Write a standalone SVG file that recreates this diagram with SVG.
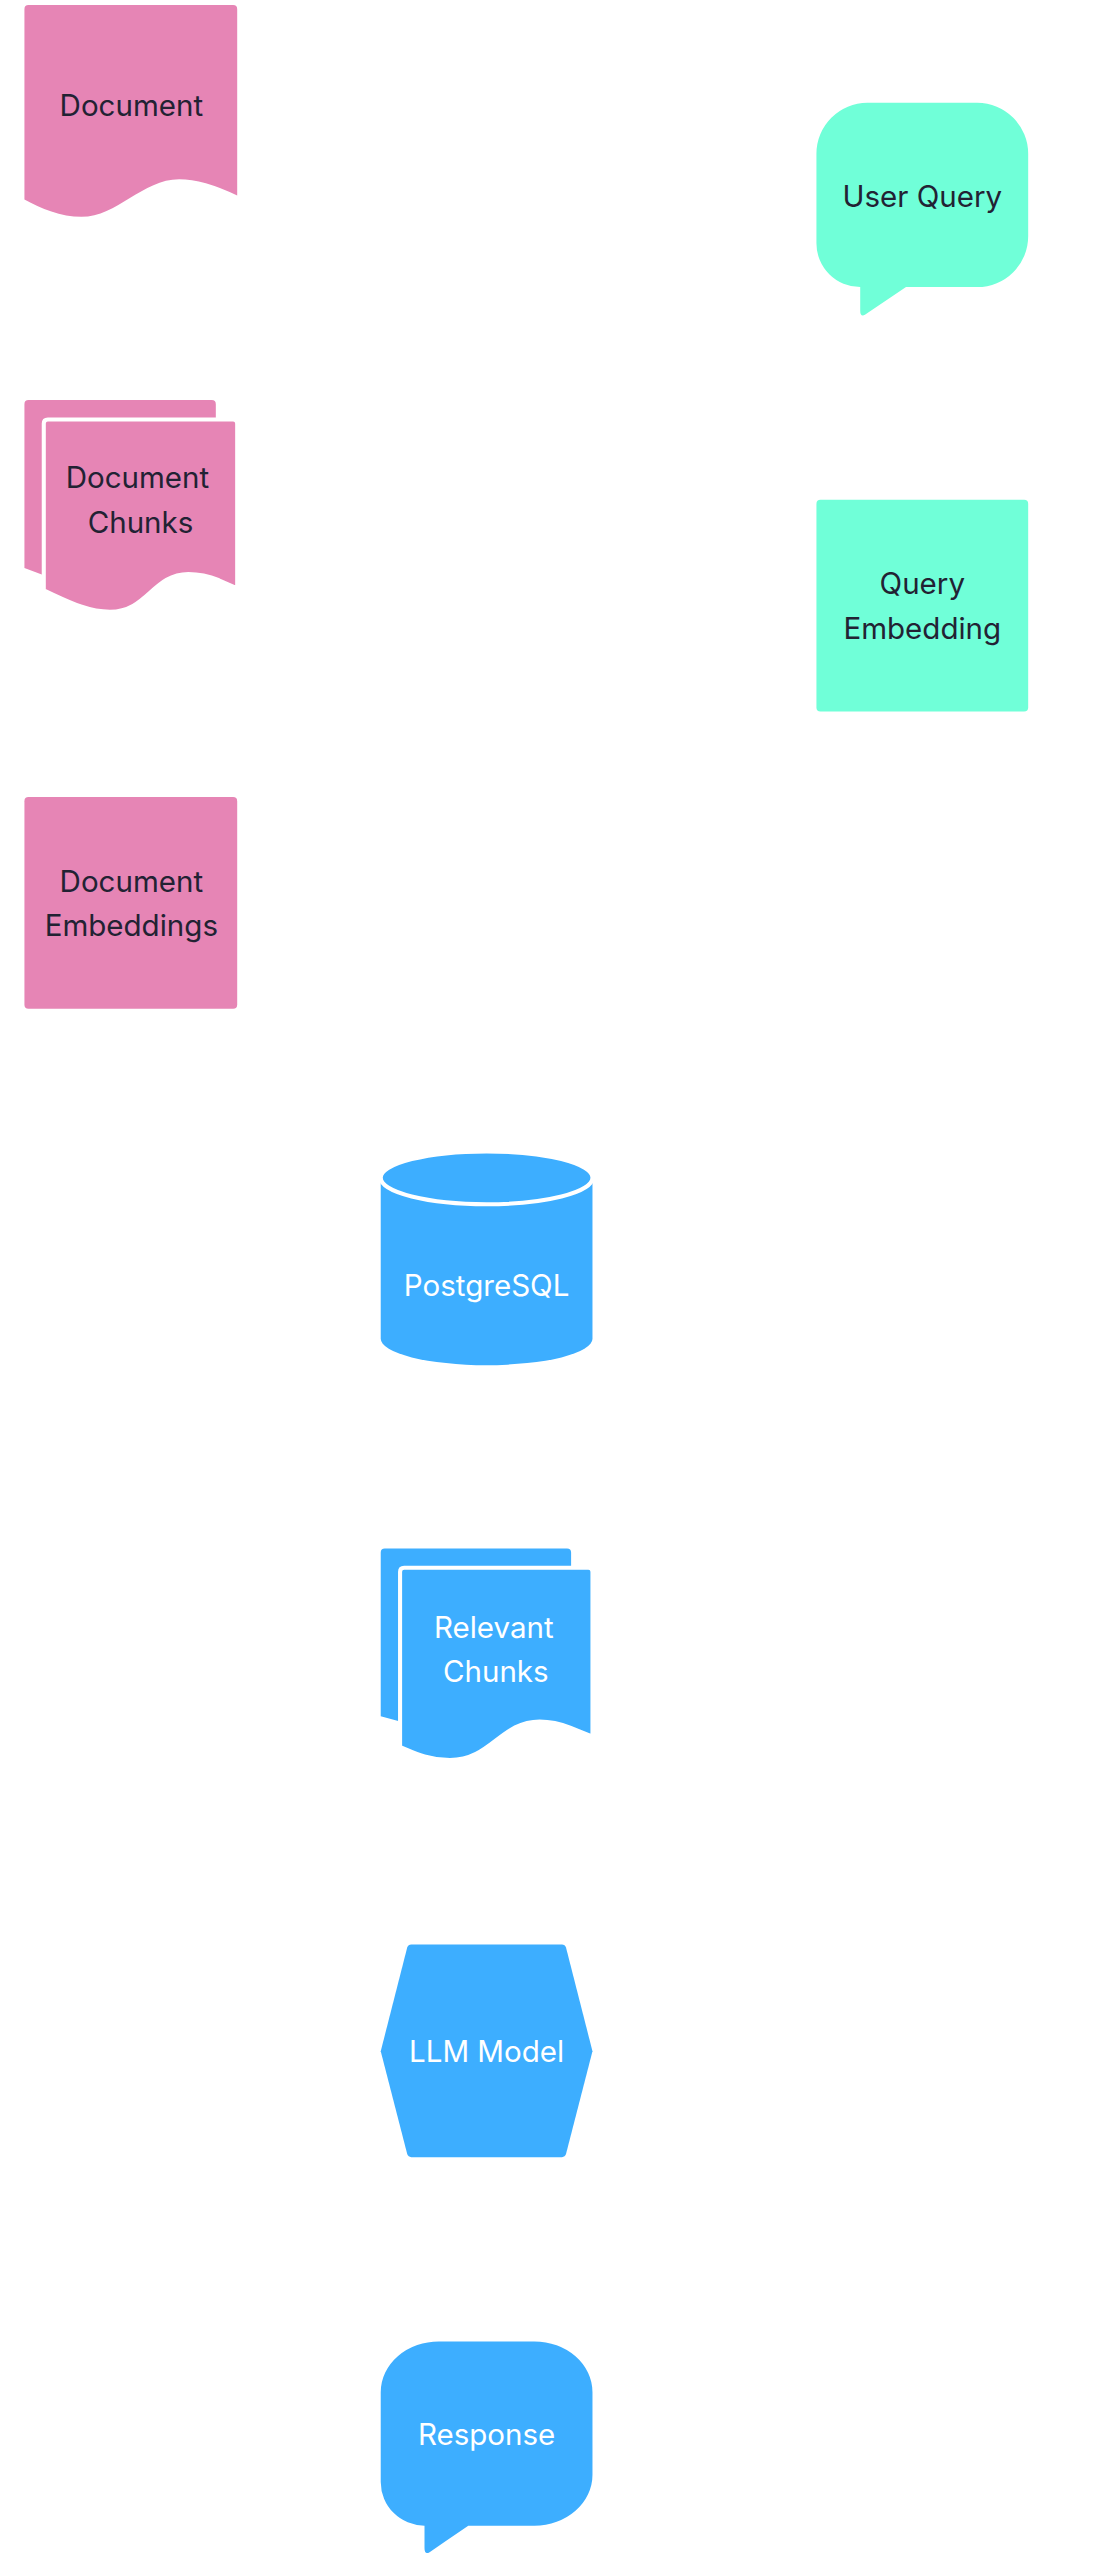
<svg xmlns="http://www.w3.org/2000/svg" width="1102" height="2560" viewBox="0 0 1102 2560">
<style>
.p{fill:#E685B5}.t{fill:#70FFD8}.b{fill:#3DAEFF}
text{font-family:Inter,"Noto Sans",sans-serif;font-size:29px;text-anchor:middle;dominant-baseline:central}
.d{fill:#222233}.w{fill:#ffffff}
.sep{stroke:#ffffff;stroke-width:4}
</style>
<rect width="1102" height="2560" fill="#ffffff"/>
<g transform="scale(1.018)">
<g id="connectors"></g>
<g id="document">
<path class="p" d="M28 5H229Q233 5 233 9V192Q200 176 176 176C140 176 115 213 80 213C60 213 40 205 24 196V9Q24 5 28 5Z"/>
<text class="d" x="129" y="103">Document</text>
</g>
<g id="user-query">
<path class="t" d="M852 101H960A50 50 0 0 1 1010 151V232A50 50 0 0 1 960 282H890L850 309Q845 312 845 305V282A43 43 0 0 1 802 239V151A50 50 0 0 1 852 101Z"/>
<text class="d" x="906" y="193">User Query</text>
</g>
<g id="document-chunks">
<path class="p" d="M28 393H208Q212 393 212 397V412H43V565L24 558V397Q24 393 28 393Z"/>
<path class="p sep" d="M47 412H229Q233 412 233 416V578L215 570Q200 564 185 564C150 564 145 601 108 601C85 601 65 590 43 580V416Q43 412 47 412Z"/>
<text class="d" x="135" y="469">Document</text>
<text class="d" x="138" y="513">Chunks</text>
</g>
<g id="query-embedding">
<rect class="t" x="802" y="491" width="208" height="208" rx="4"/>
<text class="d" x="906" y="573">Query</text>
<text class="d" x="906" y="617">Embedding</text>
</g>
<g id="document-embeddings">
<rect class="p" x="24" y="783" width="209" height="208" rx="4"/>
<text class="d" x="129" y="865">Document</text>
<text class="d" x="129" y="909">Embeddings</text>
</g>
<g id="postgresql">
<path class="b" d="M374 1160V1315A104 26 0 0 0 582 1315V1160Z"/>
<ellipse class="b sep" cx="478" cy="1157" rx="104" ry="26"/>
<text class="w" x="478" y="1262">PostgreSQL</text>
</g>
<g id="relevant-chunks">
<path class="b" d="M378 1521H557Q561 1521 561 1525V1540H393V1691L374 1686V1525Q374 1521 378 1521Z"/>
<path class="b sep" d="M397 1540H578Q582 1540 582 1544V1706L560 1697Q545 1691 530 1691C492 1691 482 1729 442 1729C420 1729 405 1721 393 1716V1544Q393 1540 397 1540Z"/>
<text class="w" x="485" y="1598">Relevant</text>
<text class="w" x="487" y="1641">Chunks</text>
</g>
<g id="llm-model">
<path class="b" d="M404 1910H552Q555 1910 556 1913L582 2015L556 2116Q555 2119 552 2119H404Q401 2119 400 2116L374 2015L400 1913Q401 1910 404 1910Z"/>
<text class="w" x="478" y="2015">LLM Model</text>
</g>
<g id="response">
<path class="b" d="M432 2300H525A57 50 0 0 1 582 2350V2431A57 50 0 0 1 525 2481H460L422 2507Q417 2510 417 2503V2481A43 43 0 0 1 374 2438V2350A57 50 0 0 1 432 2300Z"/>
<text class="w" x="478" y="2391">Response</text>
</g>
</g>
</svg>
